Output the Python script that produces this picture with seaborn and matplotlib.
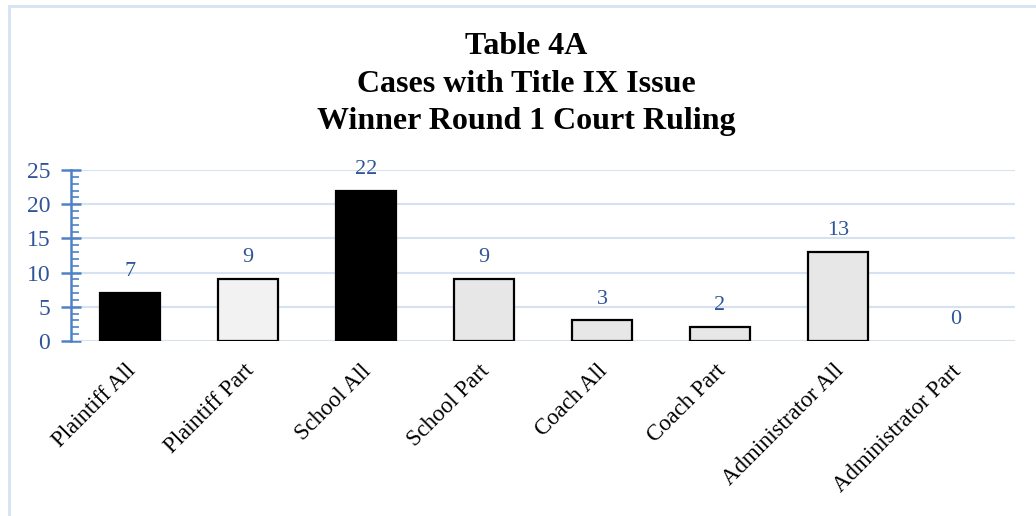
import pandas as pd
import matplotlib.pyplot as plt
import seaborn as sns
from matplotlib.patches import Rectangle
from matplotlib.ticker import MultipleLocator
from matplotlib.transforms import ScaledTranslation

# Table 4A - Title IX cases, winner of round 1 court ruling
categories = ["Plaintiff All", "Plaintiff Part", "School All", "School Part",
              "Coach All", "Coach Part", "Administrator All", "Administrator Part"]
counts = [7, 9, 22, 9, 3, 2, 13, 0]
bar_colors = ["#000000", "#f2f2f2", "#000000", "#e7e7e7",
              "#e7e7e7", "#e7e7e7", "#e7e7e7", "#e7e7e7"]

df = pd.DataFrame({"Winner": categories, "Cases": counts})

sns.set_style("white")
plt.rcParams["font.family"] = ["Liberation Serif", "DejaVu Serif"]

axis_blue = "#4f81c7"
grid_blue = "#d6e1f2"
label_blue = "#2f5597"

fig = plt.figure(figsize=(10.36, 5.16), dpi=100)
ax = fig.add_axes([71 / 1036, 1 - 341 / 516, 944 / 1036, 171 / 516])

sns.barplot(x="Winner", y="Cases", data=df, hue="Winner",
            palette=bar_colors, legend=False, width=0.51,
            edgecolor="black", linewidth=1.6, ax=ax, zorder=3)

# empty bars get no outline
for bar in ax.patches:
    if bar.get_height() == 0:
        bar.set_linewidth(0)

for i, v in enumerate(counts):
    ax.text(i, v + 1.75, str(v), ha="center", va="bottom",
            fontsize=16, color=label_blue)

ax.set_ylim(0, 25)
ax.set_xlim(-0.5, len(categories) - 0.5)
ax.yaxis.set_major_locator(MultipleLocator(5))
ax.yaxis.set_minor_locator(MultipleLocator(1))
ax.grid(axis="y", color=grid_blue, linewidth=1.5, zorder=0)
ax.set_axisbelow(True)

for side in ["top", "right", "bottom"]:
    ax.spines[side].set_visible(False)
ax.spines["left"].set_color(axis_blue)
ax.spines["left"].set_linewidth(1.8)
ax.axhline(0, color=grid_blue, linewidth=2, zorder=1)

ax.tick_params(axis="y", which="both", left=True)
ax.tick_params(axis="y", which="major", direction="inout", length=14,
               width=1.8, color=axis_blue, labelsize=17, labelcolor=label_blue, pad=8)
ax.tick_params(axis="y", which="minor", direction="in", length=6,
               width=1.2, color=axis_blue)
ax.tick_params(axis="x", length=0, labelsize=16.5, pad=14)
shift = ScaledTranslation(-5 / 100, 0, fig.dpi_scale_trans)
for lbl in ax.get_xticklabels():
    lbl.set_rotation(45)
    lbl.set_ha("right")
    lbl.set_rotation_mode("anchor")
    lbl.set_color("black")
    lbl.set_transform(lbl.get_transform() + shift)

ax.set_xlabel("")
ax.set_ylabel("")

fig.text(526 / 1036, 1 - 84 / 516, "Table 4A\nCases with Title IX Issue\nWinner Round 1 Court Ruling",
         ha="center", va="center", fontsize=23, fontweight="bold",
         color="black", linespacing=1.38)

# light frame around the chart area
fig.patches.append(Rectangle((9 / 1036, -0.1), 1.1, 1 - 6 / 516 + 0.1,
                             transform=fig.transFigure, fill=False,
                             edgecolor="#d6e1f2", linewidth=2))

plt.savefig("out.png", dpi=100)
